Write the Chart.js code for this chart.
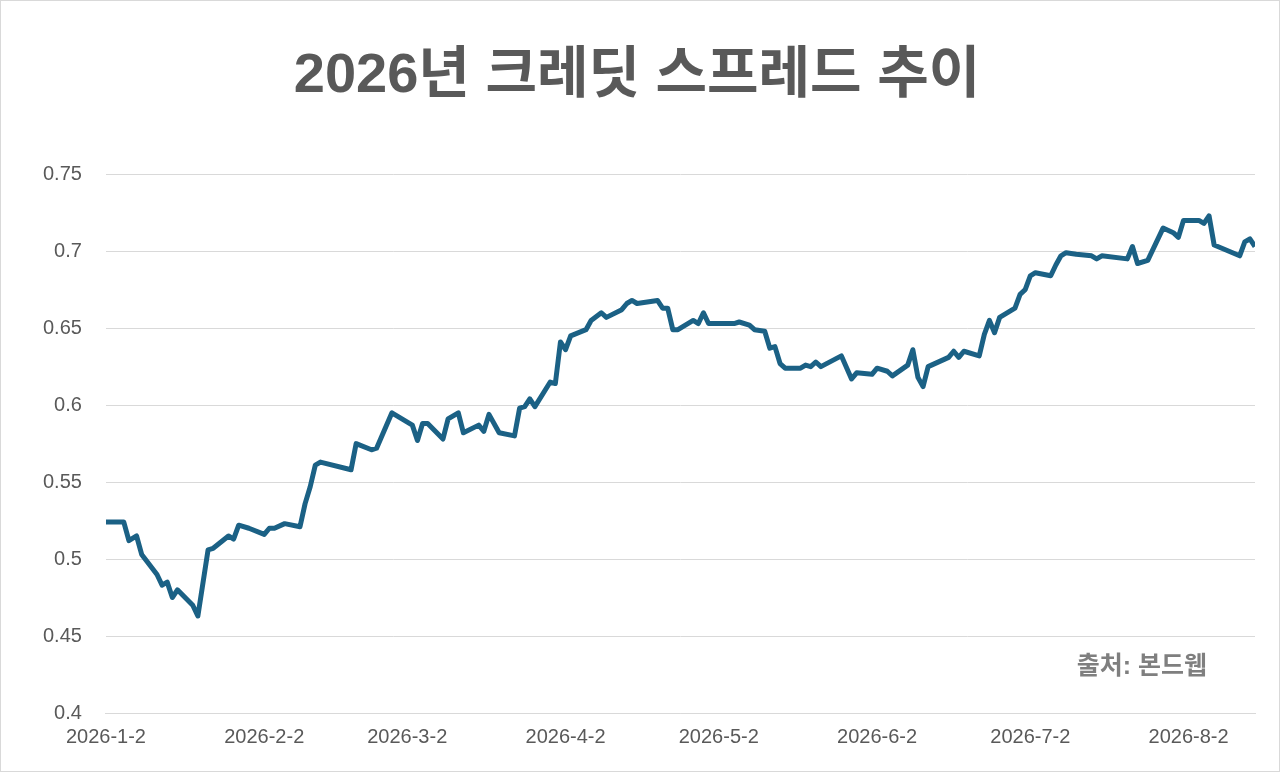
<!DOCTYPE html>
<html><head><meta charset="utf-8">
<script src="https://cdn.jsdelivr.net/npm/chart.js@4"></script>
<style>
html,body{margin:0;padding:0;background:#fff;}
#wrap{position:relative;width:1278px;height:770px;border:1px solid #d9d9d9;}
#src{position:absolute;right:72px;top:644px;font:bold 25px "Liberation Sans","Noto Sans CJK KR";color:#7f7f7f;}
</style></head><body>
<div id="wrap"><canvas id="c" width="1278" height="770"></canvas><div id="src">출처: 본드웹</div></div>
<script>
const days=[0,3.5,4.5,6,7,10,11,12,13,14,17,18,20,21,24,25,26,28,31,32,33,35,38,39,40,41,42,48,49,52,53,56,60,61,62,63,66,67,69,70,73,74,75,77,80,81,82,83,84,87,88,89,90,91,94,95,97,98,101,102,103,104,108,109,110,111,112,115,116,117,118,123,124,126,127,129,130,131,132,133,136,137,138,139,140,144,146,147,150,151,153,154,157,158,159,160,161,165,166,167,168,171,172,173,174,175,178,179,180,181,182,185,186,187,188,190,193,194,195,200,201,202,204,207,209,210,211,214,215,216,217,222,223,224,225];
const spread=[0.524,0.524,0.512,0.515,0.503,0.490,0.483,0.485,0.475,0.480,0.470,0.463,0.506,0.507,0.515,0.513,0.522,0.520,0.516,0.520,0.520,0.523,0.521,0.536,0.547,0.561,0.563,0.558,0.575,0.571,0.572,0.595,0.587,0.577,0.588,0.588,0.578,0.591,0.595,0.582,0.587,0.583,0.594,0.582,0.580,0.598,0.599,0.604,0.599,0.615,0.614,0.641,0.636,0.645,0.649,0.655,0.660,0.657,0.662,0.666,0.668,0.666,0.668,0.663,0.663,0.649,0.649,0.655,0.653,0.660,0.653,0.653,0.654,0.652,0.649,0.648,0.637,0.638,0.627,0.624,0.624,0.626,0.625,0.628,0.625,0.632,0.617,0.621,0.620,0.624,0.622,0.619,0.626,0.636,0.618,0.612,0.625,0.631,0.635,0.631,0.635,0.632,0.646,0.655,0.647,0.657,0.663,0.672,0.675,0.684,0.686,0.684,0.691,0.697,0.699,0.698,0.697,0.695,0.697,0.695,0.703,0.692,0.694,0.715,0.712,0.709,0.720,0.720,0.718,0.723,0.704,0.697,0.706,0.708,0.703];
const tickDays=[0,31,59,90,120,151,181,212];
const tickLabels=['2026-1-2','2026-2-2','2026-3-2','2026-4-2','2026-5-2','2026-6-2','2026-7-2','2026-8-2'];
const pts=days.map((d,i)=>({x:d,y:spread[i]}));
const grey='#595959';
const ff='"Liberation Sans","Noto Sans CJK KR"';
new Chart(document.getElementById('c'),{
 type:'line',
 data:{datasets:[{data:pts,borderColor:'#1b6185',borderWidth:5,pointRadius:0,tension:0,borderJoinStyle:'round'}]},
 options:{responsive:false,animation:false,
  layout:{padding:{left:18,right:24,top:30,bottom:18}},
  plugins:{legend:{display:false},tooltip:{enabled:false},
   title:{display:true,text:'2026년 크레딧 스프레드 추이',color:grey,font:{family:ff,size:56,weight:'bold'},padding:{top:12,bottom:64}}},
  scales:{
   x:{type:'linear',min:0,max:225,
    afterBuildTicks:a=>{a.ticks=tickDays.map(v=>({value:v}));},
    ticks:{autoSkip:false,maxRotation:0,color:grey,padding:4,font:{family:ff,size:20},callback:v=>tickLabels[tickDays.indexOf(v)]},
    grid:{display:false,drawTicks:true,tickLength:8},
    border:{color:'#d9d9d9'}},
   y:{min:0.4,max:0.75,
    afterBuildTicks:a=>{a.ticks=[0.4,0.45,0.5,0.55,0.6,0.65,0.7,0.75].map(v=>({value:v}));},
    ticks:{color:grey,padding:24,font:{family:ff,size:20},callback:v=>String(+v.toFixed(2))},
    grid:{color:'#d9d9d9',drawTicks:false},border:{display:false}}
  }}
});
</script></body></html>
